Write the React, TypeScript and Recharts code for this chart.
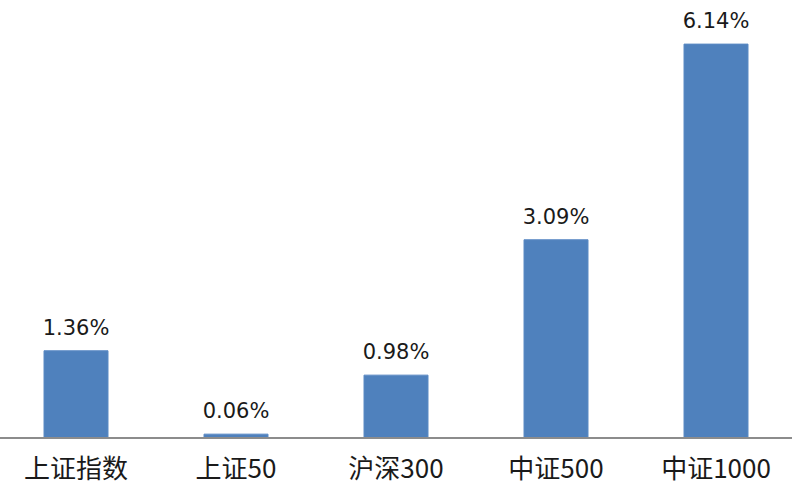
import React from 'react';
import { BarChart, Bar, XAxis, YAxis, LabelList } from 'recharts';

const categories = ['上证指数', '上证50', '沪深300', '中证500', '中证1000'];
const returns = [1.36, 0.06, 0.98, 3.09, 6.14];

const data = categories.map((name, i) => ({ name, value: returns[i] }));

export default function App() {
  return (
    <div style={{ position: 'absolute', left: -4, top: 0, width: 800, height: 486, background: '#fff' }}>
      <BarChart
        width={800}
        height={486}
        data={data}
        margin={{ top: 21, right: 0, bottom: 0, left: 0 }}
        barCategoryGap="30%"
      >
        <XAxis
          dataKey="name"
          axisLine={{ stroke: '#8c8c8c', strokeWidth: 2 }}
          tickLine={false}
          tick={{ fill: '#1a1a1a', fontSize: 26, fontFamily: '"Noto Sans CJK SC", "Noto Sans", sans-serif' }}
          tickMargin={16}
          height={48}
        />
        <YAxis hide domain={[0, 6.5]} />
        <Bar dataKey="value" fill="#4f81bd" stroke="#5b8ac4" strokeWidth={1} isAnimationActive={false}>
          <LabelList
            dataKey="value"
            position="top"
            offset={16}
            formatter={(v: number) => `${v.toFixed(2)}%`}
            style={{ fill: '#1a1a1a', fontSize: 21, fontFamily: '"DejaVu Sans", sans-serif' }}
          />
        </Bar>
      </BarChart>
    </div>
  );
}
